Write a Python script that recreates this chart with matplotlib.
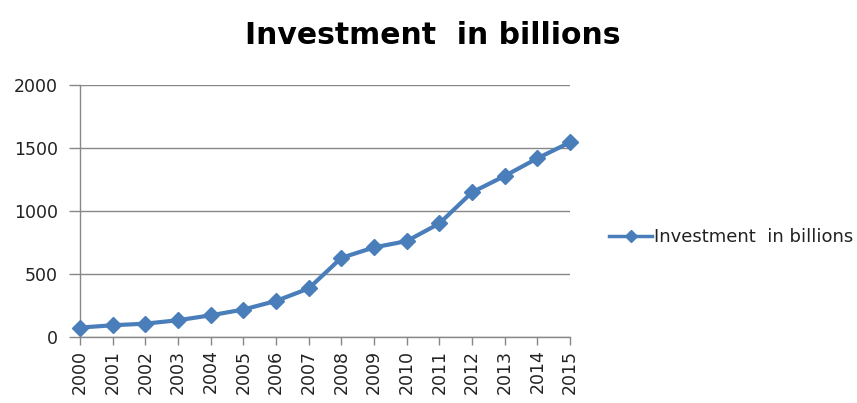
import matplotlib.pyplot as plt

years = [str(y) for y in range(2000, 2016)]
investment = [75, 93, 106, 133, 172, 218, 286, 385, 628, 711, 761, 901, 1148, 1278, 1418, 1545]
y_ticks = [0, 500, 1000, 1500, 2000]

line_color = '#4A7EBB'
grid_color = '#888888'

fig = plt.figure(figsize=(8.57, 4.03), dpi=100)
ax = fig.add_axes([80 / 857, 1 - 337 / 403, 490 / 857, 252 / 403])

x = list(range(len(years)))
ax.plot(x, investment, color=line_color, linewidth=3, marker='D', markersize=8,
        label='Investment  in billions', solid_joinstyle='round', clip_on=False, zorder=5)

ax.set_xlim(0, len(years) - 1)
ax.set_ylim(0, 2000)
ax.set_xticks(x)
ax.set_xticklabels(years, rotation=90, fontsize=12.5)
ax.set_yticks(y_ticks)
ax.set_yticklabels([str(v) for v in y_ticks], fontsize=12.5)
ax.tick_params(axis='y', length=8, color=grid_color, width=1, pad=8, labelcolor='#222222')
ax.tick_params(axis='x', length=6, color=grid_color, width=1, pad=3, labelcolor='#222222')
ax.grid(axis='y', color=grid_color, linewidth=1)
ax.set_axisbelow(True)

for side in ['top', 'right']:
    ax.spines[side].set_visible(False)
for side in ['left', 'bottom']:
    ax.spines[side].set_color(grid_color)
    ax.spines[side].set_linewidth(1)

fig.suptitle('Investment  in billions', x=433 / 857, y=1 - 35 / 403, va='center',
             fontsize=21.5, fontweight='bold')

leg = ax.legend(loc='center left', bbox_to_anchor=(600 / 857, 1 - 237 / 403),
                bbox_transform=fig.transFigure, frameon=False, fontsize=13,
                handlelength=2.4, handletextpad=0.1, borderpad=0, markerscale=0.8)
for h in leg.legend_handles:
    h.set_linewidth(2.5)
for t in leg.get_texts():
    t.set_color('#222222')

fig.savefig('out.png', dpi=100)
